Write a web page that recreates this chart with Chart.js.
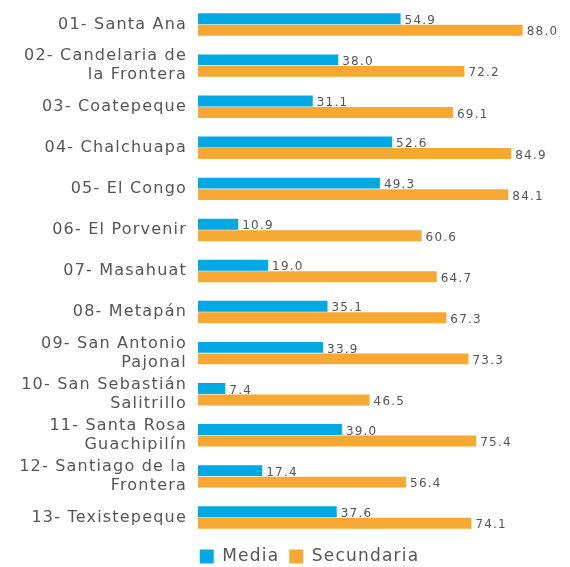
<!DOCTYPE html>
<html>
<head>
<meta charset="utf-8">
<script src="https://cdn.jsdelivr.net/npm/chart.js@4/dist/chart.umd.min.js"></script>
<style>
  html, body { margin: 0; padding: 0; background: #fff; }
  #wrap { width: 570px; height: 567px; position: relative; }
</style>
</head>
<body>
<div id="wrap"><canvas id="chart"></canvas></div>
<script>
// Municipios (etiquetas en varias lineas)
const categories = [
    '01- Santa Ana',
    ['02- Candelaria de', 'la Frontera'],
    '03- Coatepeque',
    '04- Chalchuapa',
    '05- El Congo',
    '06- El Porvenir',
    '07- Masahuat',
    '08- Metapán',
    ['09- San Antonio', 'Pajonal'],
    ['10- San Sebastián', 'Salitrillo'],
    ['11- Santa Rosa', 'Guachipilín'],
    ['12- Santiago de la', 'Frontera'],
    '13- Texistepeque'
];
const mediaValues = [54.9, 38.0, 31.1, 52.6, 49.3, 10.9, 19.0, 35.1, 33.9, 7.4, 39.0, 17.4, 37.6];
const secundariaValues = [88.0, 72.2, 69.1, 84.9, 84.1, 60.6, 64.7, 67.3, 73.3, 46.5, 75.4, 56.4, 74.1];
const seriesNames = ['Media', 'Secundaria'];

const FONT = "'DejaVu Sans', sans-serif";
const TEXT_COLOR = '#555555';

// Wider tracking, closer to the original typeface
const spacing = {
    id: 'spacing',
    beforeDraw(chart) {
        chart.ctx.letterSpacing = '1.2px';
    }
};

// Legend sits a bit right of the canvas centre in the original
const legendShift = {
    id: 'legendShift',
    afterLayout(chart) {
        chart.legend.left += 15;
        chart.legend.right += 15;
    }
};

// Value labels at the end of each bar
const valueLabels = {
    id: 'valueLabels',
    afterDatasetsDraw(chart) {
        const ctx = chart.ctx;
        ctx.save();
        ctx.font = '12px ' + FONT;
        ctx.fillStyle = TEXT_COLOR;
        ctx.textAlign = 'left';
        ctx.textBaseline = 'middle';
        chart.data.datasets.forEach((ds, i) => {
            const meta = chart.getDatasetMeta(i);
            meta.data.forEach((bar, j) => {
                ctx.fillText(ds.data[j].toFixed(1), bar.x + 4, bar.y + 2);
            });
        });
        ctx.restore();
    }
};

new Chart(document.getElementById('chart'), {
    type: 'bar',
    data: {
        labels: categories,
        datasets: [{
            label: seriesNames[0],
            data: mediaValues,
            backgroundColor: '#00a9e3',
            barPercentage: 0.95,
            categoryPercentage: 0.56
        }, {
            label: seriesNames[1],
            data: secundariaValues,
            backgroundColor: '#f7a832',
            barPercentage: 0.95,
            categoryPercentage: 0.56
        }]
    },
    options: {
        indexAxis: 'y',
        responsive: true,
        maintainAspectRatio: false,
        animation: false,
        layout: {
            padding: { left: 4, right: 3, top: 4, bottom: -8 }
        },
        plugins: {
            legend: {
                position: 'bottom',
                labels: {
                    boxWidth: 14,
                    boxHeight: 14,
                    padding: 10,
                    color: TEXT_COLOR,
                    font: { family: FONT, size: 17 }
                }
            },
            tooltip: { enabled: false }
        },
        scales: {
            x: {
                display: false,
                min: 0,
                max: 100
            },
            y: {
                grid: { display: false, drawTicks: true, tickLength: 17 },
                border: { display: false },
                afterFit: function(scale) {
                    scale.width = 194;
                },
                ticks: {
                    autoSkip: false,
                    padding: -6,
                    color: TEXT_COLOR,
                    font: { family: FONT, size: 16, lineHeight: 1.2 }
                }
            }
        }
    },
    plugins: [spacing, legendShift, valueLabels]
});
</script>
</body>
</html>
